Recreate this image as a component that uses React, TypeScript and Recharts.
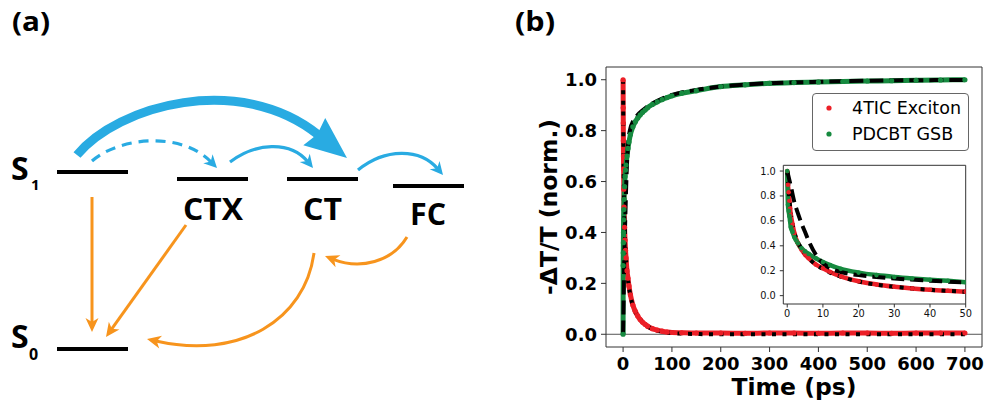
import React from 'react';
import { LineChart, Line, XAxis, YAxis, ReferenceLine, Legend, CartesianGrid, Label } from 'recharts';

// ---- transient absorption kinetics (panel b) ----
const TIMES = [0, 0.2, 0.4, 0.6, 0.8, 1, 1.5, 2, 3, 4, 5, 6, 8, 10, 12, 15, 20, 25, 30, 35, 40, 45, 50, 60, 70, 80, 90, 100, 120, 150, 200, 250, 300, 350, 400, 450, 500, 550, 600, 650, 700];
const EXCITON = [1.0, 0.89, 0.83, 0.76, 0.7, 0.65, 0.57, 0.5, 0.42, 0.37, 0.33, 0.3, 0.25, 0.22, 0.19, 0.155, 0.115, 0.09, 0.072, 0.058, 0.047, 0.039, 0.032, 0.022, 0.016, 0.012, 0.009, 0.007, 0.006, 0.005, 0.005, 0.004, 0.005, 0.005, 0.004, 0.005, 0.005, 0.004, 0.005, 0.005, 0.005];
const GSB = [0.0, 0.27, 0.32, 0.36, 0.4, 0.45, 0.49, 0.53, 0.58, 0.62, 0.645, 0.665, 0.7, 0.73, 0.755, 0.785, 0.815, 0.835, 0.85, 0.862, 0.872, 0.881, 0.89, 0.903, 0.913, 0.922, 0.93, 0.937, 0.947, 0.957, 0.973, 0.98, 0.986, 0.989, 0.991, 0.993, 0.995, 0.996, 0.998, 0.999, 1.0];

const FIT_TIMES = [0, 1, 2, 3, 4, 5, 6, 8, 10, 12, 15, 20, 25, 30, 40, 50, 60, 80, 100, 150, 200, 300, 400, 500, 600, 700];
const EXCITON_FIT = [1.0, 0.66, 0.51, 0.43, 0.375, 0.335, 0.3, 0.25, 0.215, 0.185, 0.152, 0.113, 0.088, 0.071, 0.047, 0.031, 0.021, 0.01, 0.005, 0.001, 0, 0, 0, 0, 0, 0];
const GSB_FIT = [0, 0.12, 0.25, 0.34, 0.42, 0.49, 0.56, 0.67, 0.74, 0.78, 0.81, 0.835, 0.85, 0.862, 0.88, 0.895, 0.907, 0.926, 0.94, 0.96, 0.973, 0.986, 0.992, 0.996, 0.998, 0.999];

// inset: first 50 ps, bleach shown as recovery (1 - signal)
const INSET_TIMES = [0, 0.2, 0.4, 0.6, 0.8, 1, 1.5, 2, 3, 4, 5, 6, 8, 10, 12, 15, 20, 25, 30, 35, 40, 45, 50];
const INSET_GSB = [1.0, 0.73, 0.68, 0.64, 0.6, 0.55, 0.51, 0.47, 0.42, 0.38, 0.355, 0.335, 0.3, 0.27, 0.245, 0.215, 0.185, 0.165, 0.15, 0.138, 0.128, 0.119, 0.108];
const INSET_FIT_TIMES = [0, 1, 2, 3, 4, 5, 6, 8, 10, 12, 15, 20, 25, 30, 40, 50];
const INSET_GSB_FIT = [1.0, 0.88, 0.75, 0.66, 0.58, 0.51, 0.44, 0.33, 0.26, 0.22, 0.19, 0.165, 0.15, 0.138, 0.12, 0.105];

const MAIN_X_DOMAIN: [number, number] = [-35, 735];
const MAIN_Y_DOMAIN: [number, number] = [-0.05, 1.05];
const INSET_X_DOMAIN: [number, number] = [-1.1, 50];
const INSET_Y_DOMAIN: [number, number] = [-0.067, 1.046];

const MAIN_X_TICKS = [0, 100, 200, 300, 400, 500, 600, 700];
const MAIN_Y_TICKS = [0, 0.2, 0.4, 0.6, 0.8, 1.0];
const INSET_X_TICKS = [0, 10, 20, 30, 40, 50];
const INSET_Y_TICKS = [0, 0.2, 0.4, 0.6, 0.8, 1.0];

const SERIES_NAMES = ['4TIC Exciton', 'PDCBT GSB'];

const RED = '#ec1f27';
const GREEN = '#168a3f';
const BLUE = '#29abe2';
const ORANGE = '#f7941d';
const MPL_FONT = '"DejaVu Sans", sans-serif';
const DIAGRAM_FONT = '"Open Sans", sans-serif';

const zip = (ts: number[], vs: number[]) => ts.map((t, i) => ({ t, v: vs[i] }));

const excitonData = zip(TIMES, EXCITON);
const gsbData = zip(TIMES, GSB);
const excitonFitData = zip(FIT_TIMES, EXCITON_FIT);
const gsbFitData = zip(FIT_TIMES, GSB_FIT);
const insetExcitonData = zip(INSET_TIMES, EXCITON.slice(0, INSET_TIMES.length));
const insetGsbData = zip(INSET_TIMES, INSET_GSB);
const insetExcitonFitData = zip(INSET_FIT_TIMES, EXCITON_FIT.slice(0, INSET_FIT_TIMES.length));
const insetGsbFitData = zip(INSET_FIT_TIMES, INSET_GSB_FIT);

// ---- energy level diagram (panel a) ----
type Pt = [number, number];

function headPoints(tip: Pt, from: Pt, len: number, half: number, notch: number) {
  const dx = tip[0] - from[0];
  const dy = tip[1] - from[1];
  const L = Math.hypot(dx, dy);
  const ux = dx / L, uy = dy / L;
  const nx = -uy, ny = ux;
  const bx = tip[0] - ux * len, by = tip[1] - uy * len;
  const pts: Pt[] = [
    tip,
    [bx + nx * half, by + ny * half],
    [tip[0] - ux * (len - notch), tip[1] - uy * (len - notch)],
    [bx - nx * half, by - ny * half],
  ];
  return pts.map((p) => p.join(',')).join(' ');
}

interface ArrowProps {
  p0: Pt; c1?: Pt; c2?: Pt; tip: Pt; color: string; width: number;
  len: number; half: number; notch: number; dash?: string;
}

function CurveArrow({ p0, c1, c2, tip, color, width, len, half, notch, dash }: ArrowProps) {
  const a = c1 ?? p0;
  const b = c2 ?? p0;
  const dx = tip[0] - b[0], dy = tip[1] - b[1];
  const L = Math.hypot(dx, dy);
  const back = len - notch - 1;
  const end: Pt = [tip[0] - (dx / L) * back, tip[1] - (dy / L) * back];
  const d = `M ${p0[0]} ${p0[1]} C ${a[0]} ${a[1]} ${b[0]} ${b[1]} ${end[0]} ${end[1]}`;
  return (
    <g>
      <path d={d} fill="none" stroke={color} strokeWidth={width} strokeDasharray={dash} />
      <polygon points={headPoints(tip, b, len, half, notch)} fill={color} />
    </g>
  );
}

const LEVELS: { x1: number; x2: number; y: number }[] = [
  { x1: 57, x2: 128, y: 172 },
  { x1: 177, x2: 248, y: 179 },
  { x1: 287, x2: 358, y: 179 },
  { x1: 393, x2: 464, y: 186 },
  { x1: 57, x2: 128, y: 349 },
];

function Diagram() {
  const txt = { fontFamily: DIAGRAM_FONT, fontWeight: 700, fill: '#000' } as const;
  return (
    <svg width={985} height={402} style={{ position: 'absolute', left: 0, top: 0 }}>
      <text x={12} y={31} fontSize={26} textLength={38} lengthAdjust="spacingAndGlyphs" {...txt}>(a)</text>
      <text x={515} y={31} fontSize={26} textLength={40} lengthAdjust="spacingAndGlyphs" {...txt}>(b)</text>

      {LEVELS.map((l, i) => (
        <line key={i} x1={l.x1} x2={l.x2} y1={l.y} y2={l.y} stroke="#000" strokeWidth={4} />
      ))}

      <text x={11} y={180} fontSize={32} {...txt}>S</text>
      <text x={31} y={190} fontSize={15} {...txt}>1</text>
      <text x={11} y={348} fontSize={32} {...txt}>S</text>
      <text x={29} y={360} fontSize={16} {...txt}>0</text>

      <text x={213} y={220} fontSize={30} textAnchor="middle" textLength={60} lengthAdjust="spacingAndGlyphs" {...txt}>CTX</text>
      <text x={322.5} y={220} fontSize={30} textAnchor="middle" textLength={39} lengthAdjust="spacingAndGlyphs" {...txt}>CT</text>
      <text x={428} y={225} fontSize={30} textAnchor="middle" textLength={36} lengthAdjust="spacingAndGlyphs" {...txt}>FC</text>

      {/* forward transfer (blue) */}
      <CurveArrow p0={[77, 155]} c1={[118, 105]} c2={[240, 72]} tip={[347, 158]} color={BLUE} width={9} len={42} half={17.5} notch={4} />
      <CurveArrow p0={[92, 161]} c1={[118, 138]} c2={[180, 130]} tip={[217, 168]} color={BLUE} width={3.2} len={13} half={6.5} notch={4} dash="10 7" />
      <CurveArrow p0={[230, 162]} c1={[255, 143]} c2={[290, 140]} tip={[313, 168]} color={BLUE} width={3.2} len={13} half={6.5} notch={4} />
      <CurveArrow p0={[358, 170]} c1={[385, 148]} c2={[420, 148]} tip={[443, 175]} color={BLUE} width={3.2} len={13} half={6.5} notch={4} />

      {/* decay / back transfer (orange) */}
      <CurveArrow p0={[92, 197]} tip={[92, 332]} color={ORANGE} width={3} len={14} half={6.5} notch={4} />
      <CurveArrow p0={[186, 225]} tip={[106, 337]} color={ORANGE} width={3} len={14} half={6.5} notch={4} />
      <CurveArrow p0={[314, 253]} c1={[305, 320]} c2={[240, 360]} tip={[147, 339]} color={ORANGE} width={3} len={14} half={6.5} notch={4} />
      <CurveArrow p0={[407, 237]} c1={[392, 262]} c2={[360, 270]} tip={[325, 256]} color={ORANGE} width={3} len={14} half={6.5} notch={4} />
    </svg>
  );
}

// ---- axis titles ----
const YTitle = (props: any) => {
  const vb = props.viewBox;
  const cx = vb.x + 11;
  const cy = vb.y + vb.height / 2;
  return (
    <text x={cx} y={cy} transform={`rotate(-90 ${cx} ${cy})`} textAnchor="middle"
      fontFamily={MPL_FONT} fontWeight={700} fontSize={23.5} fill="#000">
      -ΔT/T (norm.)
    </text>
  );
};

const XTitle = (props: any) => {
  const vb = props.viewBox;
  return (
    <text x={vb.x + vb.width / 2} y={vb.y + 48} textAnchor="middle"
      fontFamily={MPL_FONT} fontWeight={700} fontSize={23.5} fill="#000">
      Time (ps)
    </text>
  );
};

const LegendBox = (props: any) => {
  const items = (props.payload || []).filter((p: any) => SERIES_NAMES.includes(p.value));
  return (
    <div style={{ position: 'relative', width: 157, height: 58, boxSizing: 'border-box', border: '1px solid #666', borderRadius: 4, background: '#fff' }}>
      {items.map((p: any, i: number) => (
        <div key={p.value} style={{ position: 'absolute', left: 0, top: 14 + i * 26 - 11, height: 22, width: 157 }}>
          <svg width={10} height={10} style={{ position: 'absolute', left: 10.5, top: 6 }}>
            <circle cx={5} cy={5} r={2.6} fill={p.color} />
          </svg>
          <span style={{ position: 'absolute', left: 39, top: 0, fontFamily: MPL_FONT, fontSize: 17.5, lineHeight: '22px', color: '#000', whiteSpace: 'nowrap' }}>
            {p.value}
          </span>
        </div>
      ))}
    </div>
  );
};

const mainTick = { fill: '#000', fontSize: 18, fontWeight: 700, fontFamily: MPL_FONT };
const insetTick = { fill: '#111', fontSize: 9.8, fontFamily: MPL_FONT };
const frame = { stroke: '#333', strokeWidth: 1 };

function MainChart() {
  return (
    <div style={{ position: 'absolute', left: 0, top: 0 }}>
      <LineChart width={985} height={402} margin={{ top: 67, right: 3, bottom: 10, left: 546 }}>
        <XAxis dataKey="t" type="number" domain={MAIN_X_DOMAIN} ticks={MAIN_X_TICKS} interval={0}
          height={45} tickSize={5} tickMargin={5} tick={mainTick} axisLine={frame} tickLine={frame} allowDataOverflow>
          <Label content={XTitle} />
        </XAxis>
        <YAxis type="number" domain={MAIN_Y_DOMAIN} ticks={MAIN_Y_TICKS} interval={0} width={60}
          tickSize={5} tickMargin={4} tick={mainTick} axisLine={frame} tickLine={frame}
          tickFormatter={(v: number) => v.toFixed(1)} allowDataOverflow>
          <Label content={YTitle} />
        </YAxis>
        {/* top and right spines */}
        <ReferenceLine y={MAIN_Y_DOMAIN[1]} stroke="#333" strokeWidth={1} />
        <ReferenceLine x={MAIN_X_DOMAIN[1]} stroke="#333" strokeWidth={1} />
        <ReferenceLine y={0} stroke="#555" strokeWidth={1} />
        <Line data={excitonData} dataKey="v" name={SERIES_NAMES[0]} type="monotone" stroke={RED} strokeWidth={5}
          dot={{ r: 2.6, fill: RED, stroke: 'none' }} activeDot={false} isAnimationActive={false} />
        <Line data={gsbData} dataKey="v" name={SERIES_NAMES[1]} type="monotone" stroke={GREEN} strokeWidth={5}
          dot={{ r: 2.6, fill: GREEN, stroke: 'none' }} activeDot={false} isAnimationActive={false} />
        <Line data={excitonFitData} dataKey="v" name="exciton fit" legendType="none" type="monotone" stroke="#000"
          strokeWidth={4} strokeDasharray="4 6.5" dot={false} activeDot={false} isAnimationActive={false} />
        <Line data={gsbFitData} dataKey="v" name="GSB fit" legendType="none" type="monotone" stroke="#000"
          strokeWidth={4} strokeDasharray="14 6" dot={false} activeDot={false} isAnimationActive={false} />
        <Legend layout="horizontal" verticalAlign="middle" align="center"
          wrapperStyle={{ left: 812, top: 93, width: 157, height: 58 }} content={LegendBox} />
      </LineChart>
    </div>
  );
}

function InsetChart() {
  return (
    <div style={{ position: 'absolute', left: 740, top: 160 }}>
      <LineChart width={240} height={170} margin={{ top: 5.3, right: 14.3, bottom: 6, left: 13.3 }}>
        <CartesianGrid fill="#fff" horizontal={false} vertical={false} />
        <XAxis dataKey="t" type="number" domain={INSET_X_DOMAIN} ticks={INSET_X_TICKS} interval={0}
          height={20} tickSize={3.5} tickMargin={2.4} tick={insetTick} axisLine={frame} tickLine={frame} allowDataOverflow />
        <YAxis type="number" domain={INSET_Y_DOMAIN} ticks={INSET_Y_TICKS} interval={0} width={30}
          tickSize={3.5} tickMargin={4} tick={insetTick} axisLine={frame} tickLine={frame}
          tickFormatter={(v: number) => v.toFixed(1)} allowDataOverflow />
        <ReferenceLine y={INSET_Y_DOMAIN[1]} stroke="#333" strokeWidth={1} />
        <ReferenceLine x={INSET_X_DOMAIN[1]} stroke="#333" strokeWidth={1} />
        <Line data={insetExcitonData} dataKey="v" type="monotone" stroke={RED} strokeWidth={4.5}
          dot={{ r: 2.3, fill: RED, stroke: 'none' }} activeDot={false} isAnimationActive={false} />
        <Line data={insetGsbData} dataKey="v" type="monotone" stroke={GREEN} strokeWidth={4.5}
          dot={{ r: 2.3, fill: GREEN, stroke: 'none' }} activeDot={false} isAnimationActive={false} />
        <Line data={insetExcitonFitData} dataKey="v" type="monotone" stroke="#000" strokeWidth={4}
          strokeDasharray="4 6.5" dot={false} activeDot={false} isAnimationActive={false} />
        <Line data={insetGsbFitData} dataKey="v" type="monotone" stroke="#000" strokeWidth={4}
          strokeDasharray="13 6" dot={false} activeDot={false} isAnimationActive={false} />
      </LineChart>
    </div>
  );
}

export default function App() {
  return (
    <div style={{ position: 'absolute', left: 0, top: 0, width: 985, height: 402, background: '#fff', overflow: 'hidden' }}>
      <Diagram />
      <MainChart />
      <InsetChart />
    </div>
  );
}
